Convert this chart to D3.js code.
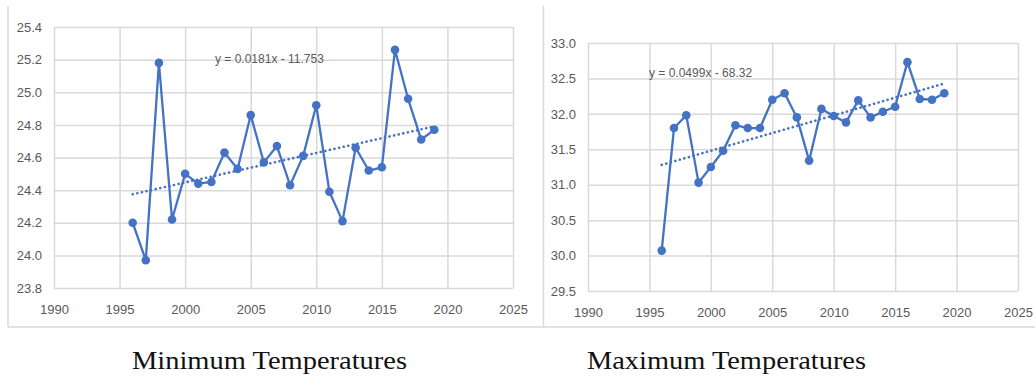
<!DOCTYPE html>
<html>
<head>
<meta charset="utf-8">
<script src="https://cdn.jsdelivr.net/npm/d3@7"></script>
<style>
  html, body { margin: 0; padding: 0; background: #fff; }
  svg { display: block; }
</style>
</head>
<body>
<svg id="chart" width="1035" height="378"></svg>
<script>
// Annual temperature records, 1996–2019
const years = [1996, 1997, 1998, 1999, 2000, 2001, 2002, 2003, 2004, 2005, 2006, 2007,
               2008, 2009, 2010, 2011, 2012, 2013, 2014, 2015, 2016, 2017, 2018, 2019];
const minTemps = [24.20, 23.97, 25.18, 24.22, 24.50, 24.44, 24.45, 24.63, 24.53, 24.86, 24.57, 24.67,
                  24.43, 24.61, 24.92, 24.39, 24.21, 24.66, 24.52, 24.54, 25.26, 24.96, 24.71, 24.77];
const maxTemps = [30.07, 31.80, 31.98, 31.03, 31.25, 31.48, 31.84, 31.80, 31.80, 32.20, 32.29, 31.95,
                  31.34, 32.07, 31.97, 31.88, 32.19, 31.95, 32.03, 32.10, 32.73, 32.21, 32.20, 32.29];

// Linear trend fits (slope, intercept) as stated on each chart
const minTrend = [0.0181, -11.753];
const maxTrend = [0.0499, -68.32];
const minTrendLabel = "y = 0.0181x - 11.753";
const maxTrendLabel = "y = 0.0499x - 68.32";

// Axis ticks
const xTicks = [1990, 1995, 2000, 2005, 2010, 2015, 2020, 2025];
const minYTicks = [23.8, 24.0, 24.2, 24.4, 24.6, 24.8, 25.0, 25.2, 25.4];
const maxYTicks = [29.5, 30.0, 30.5, 31.0, 31.5, 32.0, 32.5, 33.0];

const titles = ["Minimum Temperatures", "Maximum Temperatures"];

const svg = d3.select("#chart");
const GRID = "#d9d9d9";
const BLUE = "#4472c4";
const TEXT = "#595959";

// Outer chart frames
const frame = svg.append("g").attr("stroke", GRID).attr("stroke-width", 1.5).attr("fill", "none");
frame.append("line").attr("x1", 8).attr("x2", 8).attr("y1", 6).attr("y2", 327);
frame.append("line").attr("x1", 543.5).attr("x2", 543.5).attr("y1", 6).attr("y2", 327);
frame.append("line").attr("x1", 8).attr("x2", 1035).attr("y1", 327).attr("y2", 327);

function panel(cfg) {
  const x = d3.scaleLinear().domain([xTicks[0], xTicks[xTicks.length - 1]]).range([cfg.left, cfg.right]);
  const y = d3.scaleLinear().domain([cfg.yTicks[0], cfg.yTicks[cfg.yTicks.length - 1]]).range([cfg.bottom, cfg.top]);
  const g = svg.append("g");

  // Gridlines
  g.append("g")
    .attr("transform", `translate(0,${cfg.bottom})`)
    .call(d3.axisBottom(x).tickValues(xTicks).tickSize(-(cfg.bottom - cfg.top)).tickFormat(""))
    .call(s => s.select(".domain").remove())
    .call(s => s.selectAll("line").attr("stroke", GRID).attr("stroke-width", 1.5));
  g.append("g")
    .attr("transform", `translate(${cfg.left},0)`)
    .call(d3.axisLeft(y).tickValues(cfg.yTicks).tickSize(-(cfg.right - cfg.left)).tickFormat(""))
    .call(s => s.select(".domain").remove())
    .call(s => s.selectAll("line").attr("stroke", GRID).attr("stroke-width", 1.5));

  // Tick labels
  g.append("g")
    .attr("transform", `translate(0,${cfg.bottom + 21})`)
    .call(d3.axisBottom(x).tickValues(xTicks).tickSize(0).tickPadding(0).tickFormat(d3.format("d")))
    .call(s => s.select(".domain").remove())
    .call(s => s.selectAll("text")
      .attr("fill", TEXT).attr("font-family", "Liberation Sans, Arial, sans-serif")
      .attr("font-size", 13).attr("dy", "0.35em").attr("y", 0));
  g.append("g")
    .attr("transform", `translate(${cfg.left - 12},0)`)
    .call(d3.axisLeft(y).tickValues(cfg.yTicks).tickSize(0).tickPadding(0).tickFormat(d3.format(".1f")))
    .call(s => s.select(".domain").remove())
    .call(s => s.selectAll("text")
      .attr("fill", TEXT).attr("font-family", "Liberation Sans, Arial, sans-serif")
      .attr("font-size", 13));

  // Trend line from the fitted equation
  const t0 = years[0], t1 = years[years.length - 1];
  const f = d => cfg.trend[0] * d + cfg.trend[1];
  g.append("line")
    .attr("x1", x(t0)).attr("y1", y(f(t0)))
    .attr("x2", x(t1)).attr("y2", y(f(t1)))
    .attr("stroke", BLUE).attr("stroke-width", 2.6)
    .attr("stroke-linecap", "round").attr("stroke-dasharray", "0.1 4.6");

  // Data series
  const pts = years.map((yr, i) => [yr, cfg.values[i]]);
  g.append("path")
    .datum(pts)
    .attr("fill", "none").attr("stroke", BLUE).attr("stroke-width", 2.3)
    .attr("stroke-linejoin", "round")
    .attr("d", d3.line().x(d => x(d[0])).y(d => y(d[1])));
  g.append("g").selectAll("circle")
    .data(pts).join("circle")
    .attr("cx", d => x(d[0])).attr("cy", d => y(d[1])).attr("r", 4.3)
    .attr("fill", BLUE);

  // Equation label
  g.append("text")
    .attr("x", cfg.eqX).attr("y", cfg.eqY).attr("dy", "0.35em")
    .attr("fill", TEXT).attr("font-family", "Liberation Sans, Arial, sans-serif")
    .attr("font-size", 12).text(cfg.eqText);

  // Caption below the chart
  svg.append("text")
    .attr("x", cfg.titleX).attr("y", 369)
    .attr("text-anchor", "middle")
    .attr("font-family", "Liberation Serif, Times New Roman, serif")
    .attr("font-size", 26).attr("fill", "#111")
    .attr("textLength", cfg.titleLen).attr("lengthAdjust", "spacingAndGlyphs")
    .text(cfg.title);
}

panel({
  left: 54, right: 513, top: 27, bottom: 288,
  yTicks: minYTicks, values: minTemps, trend: minTrend,
  eqText: minTrendLabel, eqX: 215, eqY: 59,
  title: titles[0], titleX: 269.5, titleLen: 275
});
panel({
  left: 588, right: 1018, top: 43, bottom: 291,
  yTicks: maxYTicks, values: maxTemps, trend: maxTrend,
  eqText: maxTrendLabel, eqX: 649, eqY: 73,
  title: titles[1], titleX: 726.5, titleLen: 279
});
</script>
</body>
</html>
